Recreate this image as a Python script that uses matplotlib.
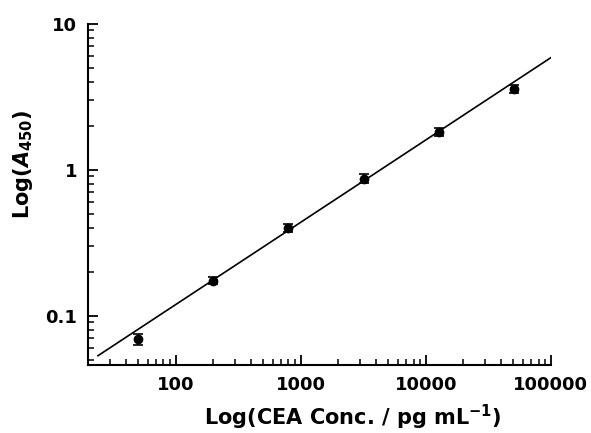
import numpy as np
import matplotlib.pyplot as plt
from matplotlib import ticker

plt.rcParams['font.family'] = 'DejaVu Sans'
plt.rcParams['font.weight'] = 'bold'
plt.rcParams['mathtext.fontset'] = 'custom'
plt.rcParams['mathtext.rm'] = 'DejaVu Sans:bold'
plt.rcParams['mathtext.it'] = 'DejaVu Sans:bold:italic'
plt.rcParams['mathtext.bf'] = 'DejaVu Sans:bold'

# CEA concentration (pg/mL) and absorbance at 450 nm
conc = [50, 200, 800, 3200, 12800, 51200]
a450 = [0.069, 0.174, 0.40, 0.87, 1.81, 3.58]
a450_err = [0.006, 0.010, 0.025, 0.06, 0.11, 0.20]

# fitted line, log(A) = intercept + slope*log(C)
fit_slope = 0.564
fit_intercept = -2.052
fit_range = [24, 100000]

xticks = [100, 1000, 10000, 100000]
yticks = [0.1, 1, 10]

fig = plt.figure(figsize=(5.91, 4.33), dpi=100)
ax = fig.add_axes([0.149, 0.157, 0.783, 0.788])

xf = np.logspace(np.log10(fit_range[0]), np.log10(fit_range[1]), 100)
ax.plot(xf, 10**fit_intercept * xf**fit_slope, color='black', lw=1.2)
ax.errorbar(conc, a450, yerr=a450_err, fmt='o', color='black', ms=6,
            capsize=3.5, elinewidth=1.2, capthick=1.2)

ax.set_xscale('log')
ax.set_yscale('log')
ax.set_xlim(20, 100000)
ax.set_ylim(0.046, 10)

ax.set_xticks(xticks)
ax.set_xticklabels([str(t) for t in xticks])
ax.set_yticks(yticks)
ax.set_yticklabels(['0.1', '1', '10'])
ax.xaxis.set_minor_locator(ticker.LogLocator(base=10, subs=np.arange(2, 10)))
ax.yaxis.set_minor_locator(ticker.LogLocator(base=10, subs=np.arange(2, 10)))
ax.xaxis.set_minor_formatter(ticker.NullFormatter())
ax.yaxis.set_minor_formatter(ticker.NullFormatter())

ax.tick_params(which='major', direction='in', length=7, width=1.3, labelsize=13, pad=8)
ax.tick_params(which='minor', direction='in', length=4, width=1.1)

for s in ['top', 'right']:
    ax.spines[s].set_visible(False)
for s in ['left', 'bottom']:
    ax.spines[s].set_linewidth(1.5)

ax.set_xlabel(r'Log(CEA Conc. / pg mL$^{\mathrm{-1}}$)', fontsize=15, fontweight='bold')
ax.set_ylabel(r'Log($\mathit{A}_{\mathrm{450}}$)', fontsize=15, fontweight='bold')
ax.xaxis.set_label_coords(0.572, -0.111)
ax.yaxis.set_label_coords(-0.114, 0.589)

fig.savefig('out.png', dpi=100)
